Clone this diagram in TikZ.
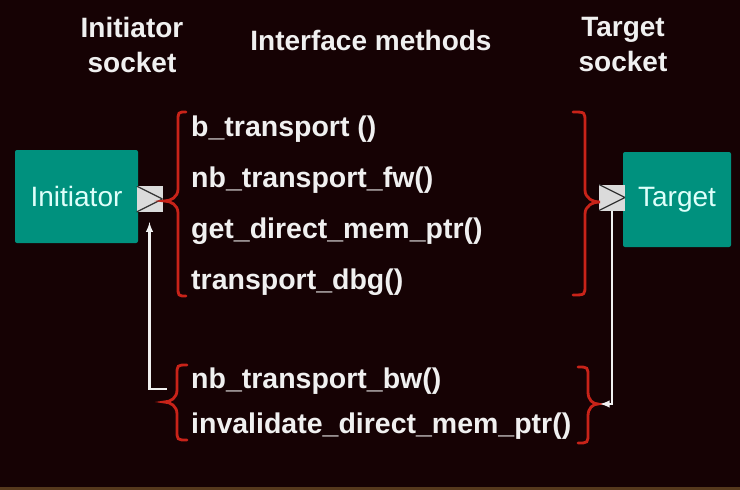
\documentclass[tikz,border=0pt]{standalone}
\usepackage{fontspec}
\setmainfont{Liberation Sans}
\usepackage{tikz}
\usetikzlibrary{arrows}
\definecolor{bgdark}{RGB}{22,2,4}
\definecolor{boxteal}{RGB}{0,145,126}
\definecolor{brred}{RGB}{200,35,25}
\definecolor{boxtxt}{RGB}{222,255,250}
\definecolor{txtwhite}{RGB}{240,240,240}
\newcommand{\methbrace}[6]{\draw[brc](#1,#4) .. controls (#2,#4) .. (#2,#4+10) -- (#2,#5-12)
  .. controls (#2,#5-4) and ({0.5*#2+0.5*#3},#5) .. (#3,#5)
  .. controls ({0.5*#2+0.5*#3},#5) and (#2,#5+4) .. (#2,#5+12) -- (#2,#6-10) .. controls (#2,#6) .. (#1,#6);}
\begin{document}
\begin{tikzpicture}[x=1pt,y=-1pt,
    hdr/.style={font=\fontsize{28}{35}\selectfont\bfseries,text=txtwhite,align=center,inner sep=0pt},
    meth/.style={font=\fontsize{28.5}{34}\selectfont\bfseries,text=txtwhite,inner sep=0pt,anchor=base west},
    modbox/.style={fill=boxteal,rounded corners=2pt,font=\fontsize{28}{34}\selectfont,text=boxtxt},
    sock/.style={fill=black!14,minimum width=26pt,minimum height=26pt,inner sep=0pt,
      path picture={\draw[black!80,line width=1.2pt](path picture bounding box.north west)--(path picture bounding box.east)--(path picture bounding box.south west);}},
    brc/.style={draw=brred,line width=2.8pt,line cap=round},
    ret/.style={draw=txtwhite,line width=2.3pt}]
              \fill[bgdark](0,0)rectangle(740,490);
              \fill[black!55!brown](0,487)rectangle(740,490);
              \useasboundingbox (0,0) rectangle (740,490);
              \node[hdr,anchor=north](hinit)at(132,17){Initiator\\socket};
              \node[hdr,anchor=base](hmeth)at(371,50){Interface methods};
              \node[hdr,anchor=north](htarg)at(623,17){Target\\socket};
              \node[modbox,minimum width=123pt,minimum height=93pt](init)at(76.5,196.5){Initiator};
              \node[sock](isock)at(149.5,199){};
              \node[modbox,minimum width=108pt,minimum height=95pt](targ)at(677,199.5){Target};
              \node[sock](tsock)at(612,197.5){};
              \node[meth](bt)at(191,136){b\_transport ()};
              \node[meth](nbfw)at(191,187){nb\_transport\_fw()};
              \node[meth](gdmp)at(191,238){get\_direct\_mem\_ptr()};
              \node[meth](dbg)at(191,289){transport\_dbg()};
              \node[meth](nbbw)at(191,388){nb\_transport\_bw()};
              \node[meth](idmp)at(191,433){invalidate\_direct\_mem\_ptr()};
              \methbrace{186}{178}{164}{112}{201}{296}
              \methbrace{573}{585}{600}{112}{202}{295}
              \methbrace{187}{177}{164}{365}{402}{440}
              \methbrace{578}{588}{598}{367}{404}{443}
              \coordinate(bwl)at(167,389);
              \coordinate(bwr)at(600,404);
              \draw[ret,-latex](bwl)-|([yshift=-10pt]isock.south);
              \draw[ret,-latex](tsock.south)|-(bwr);
            \end{tikzpicture}
\end{document}
